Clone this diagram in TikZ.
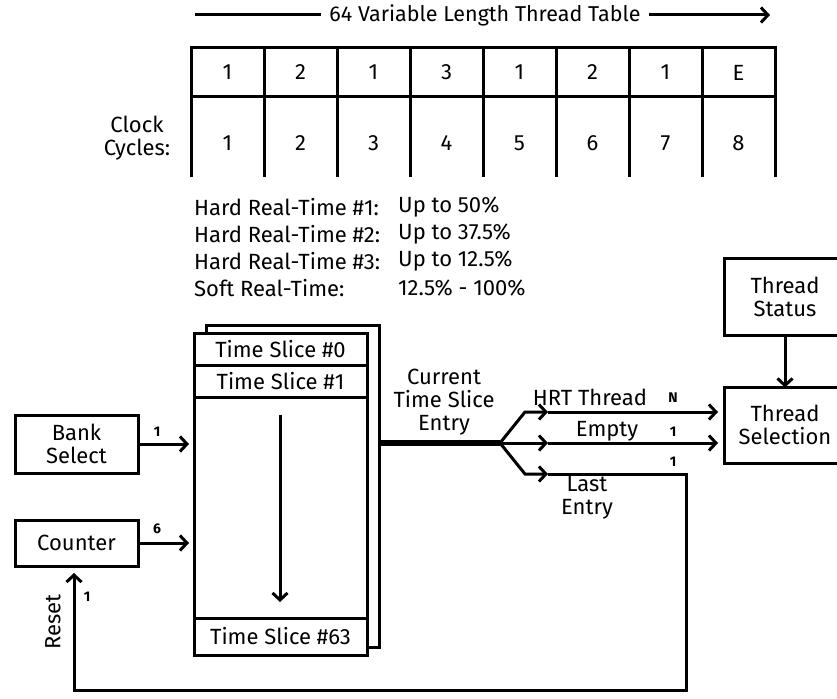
\documentclass[tikz,border=0pt]{standalone}
\usepackage{fontspec}
\setmainfont{Fira Sans}
\usetikzlibrary{arrows.meta}
\begin{document}
\begin{tikzpicture}[x=1pt,y=-1pt,
  every node/.style={font=\fontsize{22}{23}\selectfont, inner sep=0pt},
  ln/.style={line width=3pt, line join=miter},
  tip/.style={-{Straight Barb[length=7pt,width=15pt]}},
  box/.style={draw, line width=3pt, fill=white, align=center},
  lbl/.style={align=center},
  small/.style={font=\fontsize{14}{16}\selectfont\bfseries},
  ]
\useasboundingbox (0,0) rectangle (837,698);

% title arrow
\coordinate (ttl) at (195,15);
\coordinate (ttr) at (770,15);
\node[inner xsep=8pt, font=\fontsize{21.5}{23}\selectfont] (title) at (485,15) {64 Variable Length Thread Table};
\draw[ln] (ttl) -- (title.west);
\draw[ln,tip] (title.east) -- (ttr);

% table
\draw[ln] (191,48) rectangle (775,97);
\foreach \i in {0,...,8} {
  \draw[ln] ({191+73*\i},48) -- ({191+73*\i},177);
}
\foreach \v [count=\i] in {1,2,1,3,1,2,1,E} {
  \node (top\i) at ({191+73*\i-36.5},72.5) {\v};
  \node (clk\i) at ({191+73*\i-36.5},143) {\i};
}
\node[lbl] (clock) at (137,138) {Clock\\Cycles:};

% legend
\foreach \a/\b/\y [count=\k] in {Hard Real-Time \#1:/Up to 50\%/207,
                              Hard Real-Time \#2:/Up to 37.5\%/234,
                              Hard Real-Time \#3:/Up to 12.5\%/261,
                              Soft Real-Time:/12.5\% - 100\%/288} {
  \node[anchor=west] (lega\k) at (194,\y) {\a};
  \node[anchor=west] (legb\k) at (398,\y) {\b};
}

% time slice stack
\node[box, minimum width=173pt, minimum height=322pt] (back) at (292.5,486) {};
\node[box, minimum width=173pt, minimum height=322pt] (front) at (280.5,494) {};
\node[box, minimum width=173pt, minimum height=32pt] (ts0) at (280.5,349) {Time Slice \#0};
\node[box, minimum width=173pt, minimum height=32pt] (ts1) at (280.5,381) {Time Slice \#1};
\node[box, minimum width=173pt, minimum height=37pt] (ts63) at (280.5,636.5) {Time Slice \#63};
\coordinate (ia) at (280,415);
\coordinate (ib) at (280,602);
\draw[ln,tip] (ia) -- (ib);

% left boxes
\node[box, minimum width=123pt, minimum height=58pt] (bank) at (76.5,444) {Bank\\Select};
\node[box, minimum width=123pt, minimum height=46pt] (counter) at (76.5,543) {Counter};
\coordinate (bankin) at (189,444);
\coordinate (cntin) at (189,543);
\draw[ln,tip] (bank.east) -- (bankin);
\draw[ln,tip] (counter.east) -- (cntin);
\node[small] (n1) at (157,432) {1};
\node[small] (n6) at (157,529) {6};

% right boxes (they run past the right edge)
\node[box, minimum width=140pt, minimum height=77pt] (status) at (794,296.5) {};
\node[lbl] (statust) at (785,296.5) {Thread\\Status};
\node[box, minimum width=140pt, minimum height=76pt] (sel) at (794,425) {};
\node[lbl] (selt) at (785,425) {Thread\\Selection};
\draw[ln,tip] (statust |- status.south) -- ([yshift=-2pt]statust |- sel.north);

% output fork
\coordinate (out) at (379,443);
\coordinate (fork) at (500,443);
\coordinate (ua) at (525,412);
\coordinate (um) at (548,412);
\coordinate (ue) at (718,412);
\coordinate (mm) at (548,443);
\coordinate (me) at (718,443);
\coordinate (la) at (525,474);
\coordinate (lm) at (548,474);
\coordinate (lc) at (686,474);
\coordinate (ld) at (686,690);
\coordinate (le) at (74,690);
\coordinate (lf) at (74,573);
\draw[line width=5.5pt] (out) -- (fork);
\draw[ln,tip] (fork) -- (ua) -- (um);
\draw[ln,tip] (um) -- (ue);
\draw[ln,tip] (fork) -- (mm);
\draw[ln,tip] (mm) -- (me);
\draw[ln,tip] (fork) -- (la) -- (lm);
\draw[ln,tip] (lm) -- (lc) -- (ld) -- (le) -- (lf);

\node[lbl] (cur) at (444,402) {Current\\Time Slice\\Entry};
\node (hrt) at (590,397) {HRT Thread};
\node[small] (nN) at (673,398) {N};
\node (empty) at (607,431) {Empty};
\node[small] (ne) at (673,432) {1};
\node[small] (nl) at (673,462) {1};
\node[lbl] (last) at (587,498) {Last\\Entry};
\node[small] (nr) at (87,597) {1};
\node[rotate=90] (reset) at (53,622) {Reset};
\end{tikzpicture}
\end{document}
